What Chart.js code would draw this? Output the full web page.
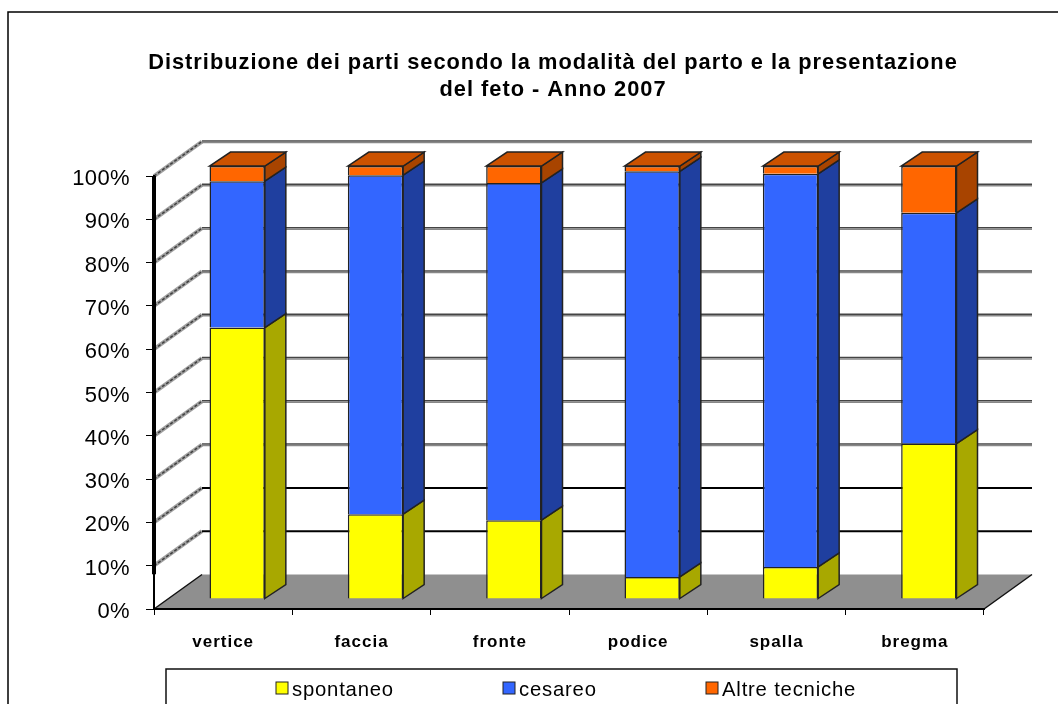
<!DOCTYPE html>
<html>
<head>
<meta charset="utf-8">
<title>Distribuzione dei parti</title>
<script src="https://cdn.jsdelivr.net/npm/chart.js@4"></script>
<style>
    html, body { margin: 0; padding: 0; background: #ffffff; overflow: hidden; }
    #chart-box { width: 1058px; height: 704px; }
</style>
</head>
<body>
<div id="chart-box"><canvas id="parti-chart"></canvas></div>
<script>
const categories = ['vertice', 'faccia', 'fronte', 'podice', 'spalla', 'bregma']
const spontaneo = [62.7, 19.6, 18.2, 5.1, 7.4, 35.9]
const cesareo = [33.8, 78.3, 77.9, 93.7, 90.8, 53.3]
const altreTecniche = [3.5, 2.1, 3.9, 1.2, 1.8, 10.8]
const titleLines = ['Distribuzione dei parti secondo la modalità del parto e la presentazione', 'del feto - Anno 2007']

const fontName = "'Liberation Sans', Arial, sans-serif"
const sideColors = ['#a8a800', '#1f3f9f', '#a84400']
const topColor = '#cc5200'

// the 3d look: back wall offset from the axes, bars sit partway into the depth
const wall = { dx: 48, dy: -34.5 }
const barShift = { dx: 14, dy: -10 }
const barDepth = { dx: 21, dy: -14 }

function face(ctx, points, fill) {
    ctx.beginPath()
    points.forEach((p, i) => i ? ctx.lineTo(p[0], p[1]) : ctx.moveTo(p[0], p[1]))
    ctx.closePath()
    ctx.fillStyle = fill
    ctx.fill()
    ctx.lineWidth = 1.5
    ctx.strokeStyle = '#222222'
    ctx.stroke()
}

const walls3d = {
    id: 'walls3d',
    afterLayout(chart) {
        // title is centred over the plot, not over the whole canvas
        chart.titleBlock.left = 122

        // value labels sit a little under their ticks in the reference
        const y = chart.scales.y
        if (!y.shiftedLabels) {
            const drawLabels = y.drawLabels
            y.drawLabels = function(area) {
                chart.ctx.save()
                chart.ctx.translate(0, 3)
                chart.ctx.letterSpacing = '0.4px'
                drawLabels.call(y, area)
                chart.ctx.restore()
            }
            y.shiftedLabels = true
        }
    },
    beforeDraw(chart) {
        const ctx = chart.ctx
        const { left, right } = chart.chartArea
        const y = chart.scales.y
        const y0 = y.getPixelForValue(0)

        ctx.letterSpacing = '1px'
        ctx.fillStyle = '#ffffff'
        ctx.fillRect(0, 0, chart.width, chart.height)

        // outer frame, cut by the picture on the right and at the bottom
        ctx.save()
        ctx.strokeStyle = '#000000'
        ctx.lineWidth = 1.5
        ctx.beginPath()
        ctx.moveTo(8, chart.height)
        ctx.lineTo(8, 12)
        ctx.lineTo(chart.width, 12)
        ctx.stroke()

        // floor
        ctx.fillStyle = '#8f8f8f'
        ctx.beginPath()
        ctx.moveTo(left, y0)
        ctx.lineTo(right, y0)
        ctx.lineTo(right + wall.dx, y0 + wall.dy)
        ctx.lineTo(left + wall.dx, y0 + wall.dy)
        ctx.closePath()
        ctx.fill()

        ctx.beginPath()
        ctx.moveTo(left, y0)
        ctx.lineTo(left + wall.dx, y0 + wall.dy)
        ctx.moveTo(right, y0)
        ctx.lineTo(right + wall.dx, y0 + wall.dy)
        ctx.strokeStyle = '#111111'
        ctx.lineWidth = 1.5
        ctx.stroke()

        y.ticks.forEach(t => {
            if (t.value === 0) return
            const py = y.getPixelForValue(t.value)
            const by = py + wall.dy

            // side wall line
            ctx.beginPath()
            ctx.moveTo(left, py)
            ctx.lineTo(left + wall.dx, by)
            ctx.setLineDash([])
            ctx.strokeStyle = '#a0a0a0'
            ctx.lineWidth = 4
            ctx.stroke()
            ctx.setLineDash([3, 2])
            ctx.strokeStyle = '#404040'
            ctx.lineWidth = 1.5
            ctx.stroke()
            ctx.setLineDash([])

            // back wall line
            if (t.value <= 20) {
                ctx.strokeStyle = '#000000'
                ctx.lineWidth = 2
                ctx.beginPath()
                ctx.moveTo(left + wall.dx, by)
                ctx.lineTo(right + wall.dx, by)
                ctx.stroke()
            } else {
                ctx.strokeStyle = '#444444'
                ctx.lineWidth = 1.5
                ctx.beginPath()
                ctx.moveTo(left + wall.dx, by - 0.5)
                ctx.lineTo(right + wall.dx, by - 0.5)
                ctx.stroke()
                ctx.strokeStyle = '#888888'
                ctx.beginPath()
                ctx.moveTo(left + wall.dx, by + 1)
                ctx.lineTo(right + wall.dx, by + 1)
                ctx.stroke()
            }
        })
        ctx.restore()
    },
    afterDraw(chart) {
        const ctx = chart.ctx
        const { left } = chart.chartArea
        const y = chart.scales.y

        ctx.save()
        // heavy part of the value axis, it stops where the floor starts
        ctx.strokeStyle = '#000000'
        ctx.lineWidth = 4
        ctx.beginPath()
        ctx.moveTo(left, y.getPixelForValue(100))
        ctx.lineTo(left, y.getPixelForValue(8))
        ctx.stroke()

        // legend box, runs off the bottom of the picture
        ctx.lineWidth = 1.5
        ctx.strokeStyle = '#111111'
        ctx.beginPath()
        ctx.moveTo(166, chart.height)
        ctx.lineTo(166, 669)
        ctx.lineTo(957, 669)
        ctx.lineTo(957, chart.height)
        ctx.stroke()

        const legendX = [276, 503, 706]
        ctx.font = '20.3px ' + fontName
        ctx.letterSpacing = '0.8px'
        ctx.textBaseline = 'middle'
        ctx.textAlign = 'left'
        chart.data.datasets.forEach((ds, i) => {
            ctx.fillStyle = ds.backgroundColor
            ctx.fillRect(legendX[i], 682, 12, 12)
            ctx.strokeStyle = '#222222'
            ctx.lineWidth = 1
            ctx.strokeRect(legendX[i], 682, 12, 12)
            ctx.fillStyle = '#000000'
            ctx.fillText(ds.label, legendX[i] + 16, 690)
        })
        ctx.restore()
    }
}

const bars3d = {
    id: 'bars3d',
    beforeDatasetsDraw(chart) {
        const ctx = chart.ctx
        ctx.save()
        ctx.translate(barShift.dx, barShift.dy)
        const last = chart.data.datasets.length - 1
        chart.data.datasets.forEach((ds, i) => {
            chart.getDatasetMeta(i).data.forEach(bar => {
                const r = bar.x + bar.width / 2
                const l = bar.x - bar.width / 2
                face(ctx, [[r, bar.base], [r + barDepth.dx, bar.base + barDepth.dy], [r + barDepth.dx, bar.y + barDepth.dy], [r, bar.y]], sideColors[i])
                if (i === last) {
                    face(ctx, [[l, bar.y], [l + barDepth.dx, bar.y + barDepth.dy], [r + barDepth.dx, bar.y + barDepth.dy], [r, bar.y]], topColor)
                }
            })
        })
    },
    afterDatasetsDraw(chart) {
        chart.ctx.restore()
    }
}

let partiChart = new Chart(document.getElementById('parti-chart'), {
    type: 'bar',
    plugins: [walls3d, bars3d],
    data: {
        labels: categories,
        datasets: [
            { label: 'spontaneo', backgroundColor: '#ffff00', data: spontaneo },
            { label: 'cesareo', backgroundColor: '#3366ff', data: cesareo },
            { label: 'Altre tecniche', backgroundColor: '#ff6600', data: altreTecniche }
        ]
    },
    options: {
        responsive: true,
        maintainAspectRatio: false,
        animation: false,
        layout: {
            padding: { left: 40, right: 74, top: 0, bottom: 0 }
        },
        datasets: {
            bar: {
                stacked: true,
                clip: false,
                borderWidth: 1.5,
                borderColor: '#222222',
                barPercentage: 0.4,
                categoryPercentage: 1
            }
        },
        plugins: {
            legend: { display: false },
            tooltip: { enabled: false },
            title: {
                display: true,
                text: titleLines,
                color: '#000000',
                font: { family: fontName, size: 21.8, weight: 'bold', lineHeight: 1.24 },
                padding: { top: 49, bottom: 73 }
            }
        },
        scales: {
            x: {
                stacked: true,
                afterFit(scale) { scale.height = 95 },
                border: { color: '#000000', width: 2 },
                grid: { drawOnChartArea: false, tickLength: 6, color: '#000000' },
                ticks: {
                    color: '#000000',
                    padding: 17,
                    maxRotation: 0,
                    font: { family: fontName, size: 17, weight: 'bold' }
                }
            },
            y: {
                stacked: true,
                min: 0,
                max: 100,
                afterFit(scale) { scale.width = 114 },
                border: { color: '#000000', width: 2 },
                grid: { drawOnChartArea: false, tickLength: 8, color: '#000000' },
                ticks: {
                    stepSize: 10,
                    color: '#000000',
                    padding: 16,
                    font: { family: fontName, size: 22 },
                    callback: function(value) {
                        return value + '%'
                    }
                }
            }
        }
    }
})
</script>
</body>
</html>
